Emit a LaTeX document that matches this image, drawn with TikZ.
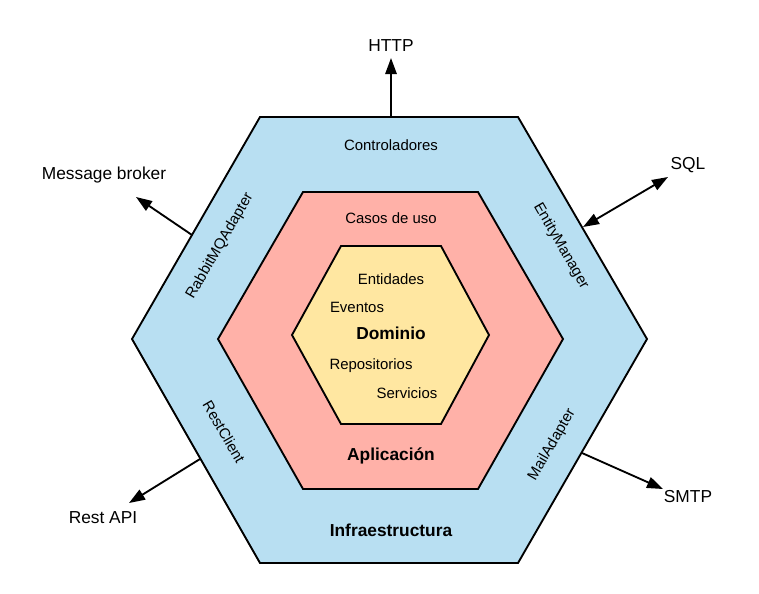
\documentclass[tikz,border=0pt]{standalone}
\usepackage{fontspec}
\setmainfont{Liberation Sans}
\usetikzlibrary{arrows.meta}
\definecolor{infrafill}{RGB}{184,223,242}
\definecolor{appfill}{RGB}{255,177,168}
\definecolor{domfill}{RGB}{255,231,161}
\tikzset{
  hexa/.style={draw=black, line width=1.4pt, line join=miter},
  small/.style={font=\fontsize{11.2}{13}\selectfont, inner sep=1pt},
  big/.style={font=\fontsize{13}{15}\selectfont, inner sep=1pt},
  title/.style={font=\fontsize{13}{15}\selectfont\bfseries, inner sep=1pt},
  arr/.style={line width=1.4pt, -{Triangle[length=12pt,width=8.5pt]}},
  darr/.style={line width=1.4pt, {Triangle[length=12pt,width=8.5pt]}-{Triangle[length=12pt,width=8.5pt]}}
}
\begin{document}
\begin{tikzpicture}[x=0.75pt,y=-0.75pt]
\useasboundingbox (0,0) rectangle (759,593);
% hexagons
\fill[white] (0,0) rectangle (759,593);
\draw[hexa, fill=infrafill] (260,117) -- (518,117) -- (647,339) -- (518,563) -- (260,563) -- (132,339) -- cycle;
\draw[hexa, fill=appfill] (303,192) -- (478,192) -- (563,339) -- (478,489) -- (303,489) -- (218,339) -- cycle;
\draw[hexa, fill=domfill] (341,246) -- (441,246) -- (489,335) -- (441,424) -- (341,424) -- (292,335) -- cycle;
% labels inside
\node[small] (ctrl) at (391,145) {Controladores};
\node[small] (casos) at (391,218) {Casos de uso};
\node[small] (ent) at (391,279) {Entidades};
\node[small] (evt) at (357,307) {Eventos};
\node[title] (dom) at (391,333) {Dominio};
\node[small] (repo) at (371,366) {Repositorios};
\node[small] (serv) at (407,393) {Servicios};
\node[title] (apl) at (391,456) {Aplicación};
\node[title] (infra) at (391,530) {Infraestructura};
\node[small, rotate=60] (rabbit) at (220,246) {RabbitMQAdapter};
\node[small, rotate=-60] (entity) at (561,246) {EntityManager};
\node[small, rotate=-60] (rest) at (224,432) {RestClient};
\node[small, rotate=60] (mail) at (552,445) {MailAdapter};
% outer labels
\node[big] (http) at (391,46) {HTTP};
\node[big] (mb) at (104,175) {Message broker};
\node[big] (sql) at (688,165) {SQL};
\node[big] (restapi) at (103,518) {Rest API};
\node[big] (smtp) at (688,497) {SMTP};
% connector end points
\coordinate (httpA) at (391,117);
\coordinate (httpB) at (391,58);
\coordinate (mbA) at (192,235);
\coordinate (mbB) at (136,197);
\coordinate (sqlA) at (583,227);
\coordinate (sqlB) at (668,177);
\coordinate (restA) at (200,459);
\coordinate (restB) at (129,503);
\coordinate (smtpA) at (582,453);
\coordinate (smtpB) at (663,489);
\draw[arr] (httpA) -- (httpB);
\draw[arr] (mbA) -- (mbB);
\draw[darr] (sqlA) -- (sqlB);
\draw[arr] (restA) -- (restB);
\draw[arr] (smtpA) -- (smtpB);
\end{tikzpicture}
\end{document}
